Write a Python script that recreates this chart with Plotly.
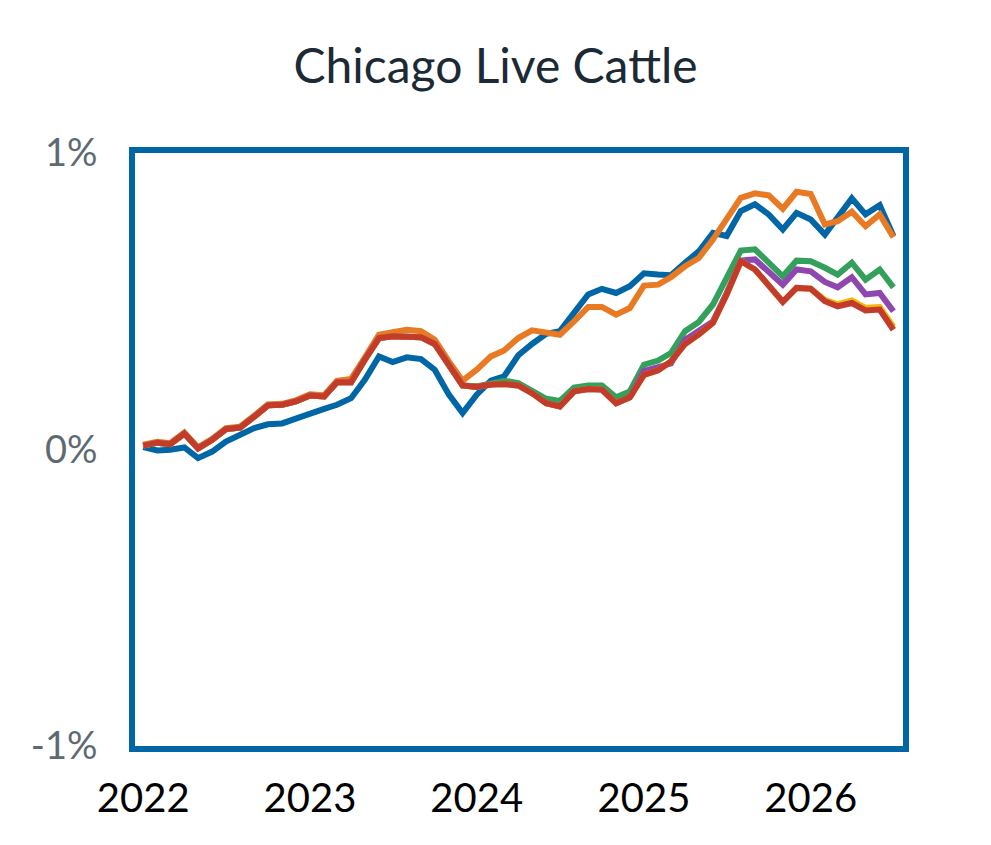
import pandas as pd
import plotly.graph_objects as go

# 月度数据 2022-01 ~ 2026-07，单位：%
dates = pd.date_range('2022-01-01', periods=55, freq='MS')

blue = [0.008, -0.003, -0.001, 0.007, -0.029, -0.007, 0.027, 0.050, 0.072, 0.085,
        0.088, 0.104, 0.123, 0.137, 0.151, 0.173, 0.235, 0.314, 0.295, 0.311,
        0.305, 0.269, 0.185, 0.123, 0.185, 0.232, 0.247, 0.318, 0.356, 0.390,
        0.399, 0.461, 0.523, 0.542, 0.528, 0.551, 0.594, 0.590, 0.588, 0.630,
        0.668, 0.731, 0.720, 0.804, 0.827, 0.793, 0.742, 0.798, 0.776, 0.725,
        0.787, 0.847, 0.793, 0.824, 0.720]

orange = [0.016, 0.026, 0.021, 0.057, 0.007, 0.036, 0.072, 0.077, 0.114, 0.152,
          0.154, 0.166, 0.186, 0.183, 0.232, 0.238, 0.310, 0.387, 0.396, 0.404,
          0.399, 0.370, 0.297, 0.232, 0.269, 0.314, 0.334, 0.376, 0.402, 0.396,
          0.387, 0.432, 0.481, 0.481, 0.455, 0.477, 0.553, 0.556, 0.581, 0.618,
          0.646, 0.708, 0.776, 0.849, 0.864, 0.857, 0.812, 0.869, 0.862, 0.759,
          0.770, 0.802, 0.753, 0.793, 0.716]

red = [0.013, 0.023, 0.018, 0.054, 0.004, 0.033, 0.069, 0.074, 0.111, 0.149,
       0.151, 0.162, 0.182, 0.179, 0.227, 0.227, 0.303, 0.376, 0.382, 0.382,
       0.379, 0.356, 0.286, 0.216, 0.211, 0.219, 0.221, 0.216, 0.190, 0.156,
       0.145, 0.196, 0.204, 0.202, 0.156, 0.176, 0.252, 0.267, 0.297, 0.356,
       0.388, 0.427, 0.523, 0.635, 0.607, 0.551, 0.498, 0.545, 0.542, 0.500,
       0.483, 0.494, 0.469, 0.472, 0.404]

green = red[:24] + [0.213, 0.224, 0.232, 0.224, 0.196, 0.171, 0.164, 0.209, 0.216, 0.216,
                    0.176, 0.196, 0.286, 0.300, 0.325, 0.399, 0.430, 0.489, 0.579, 0.671,
                    0.675, 0.630, 0.584, 0.637, 0.635, 0.613, 0.590, 0.630, 0.573, 0.607,
                    0.547]

purple = red[:36] + [0.265, 0.280, 0.290, 0.370, 0.399, 0.432, 0.528, 0.637, 0.641, 0.601,
                     0.556, 0.607, 0.601, 0.565, 0.547, 0.581, 0.523, 0.528, 0.466]

yellow = red[:49] + [0.505, 0.490, 0.503, 0.478, 0.480, 0.414]

series = [
    ('blue', blue, '#0066A6'),
    ('orange', orange, '#E87A24'),
    ('green', green, '#33A05C'),
    ('purple', purple, '#8E47AE'),
    ('yellow', yellow, '#F2B80A'),
    ('red', red, '#C23B2B'),
]

year_ticks = ['2022-01-01', '2023-01-01', '2024-01-01', '2025-01-01', '2026-01-01']
year_labels = ['2022', '2023', '2024', '2025', '2026']

fig = go.Figure()

for name, vals, color in series:
    fig.add_trace(go.Scatter(
        x=dates, y=vals, mode='lines', name=name,
        line=dict(color=color, width=6),
    ))

border = '#0066A6'

# 页面 body 自带 8px 边距，这里整体缩小以贴合窗口
fig.update_layout(
    width=975, height=829,
    margin=dict(l=127, r=80, t=145, b=91),
    paper_bgcolor='white', plot_bgcolor='white',
    showlegend=False,
    font=dict(family='Lato', color='#000000'),
    title=dict(text='Chicago Live Cattle', x=0.5, xref='container', xanchor='center',
               y=1 - 58 / 829, yref='container', yanchor='middle',
               font=dict(size=48, color='#1B2A35', family='Lato')),
)

fig.update_xaxes(
    type='date', range=['2021-12-14', '2026-07-22'],
    tickvals=year_ticks, ticktext=year_labels,
    showgrid=False, zeroline=False, ticks='',
    showline=True, mirror=True, linewidth=6, linecolor=border,
    tickfont=dict(size=40, color='#000000'), ticklabelstandoff=12,
)
fig.update_yaxes(
    range=[-1, 1], tickvals=[-1, 0, 1], ticktext=['-1%', '0%', '1%'],
    showgrid=False, zeroline=False, ticks='',
    showline=True, mirror=True, linewidth=6, linecolor=border,
    tickfont=dict(size=38, color='#5E6A72'), ticklabelstandoff=24,
)

fig.write_html('out.html')
